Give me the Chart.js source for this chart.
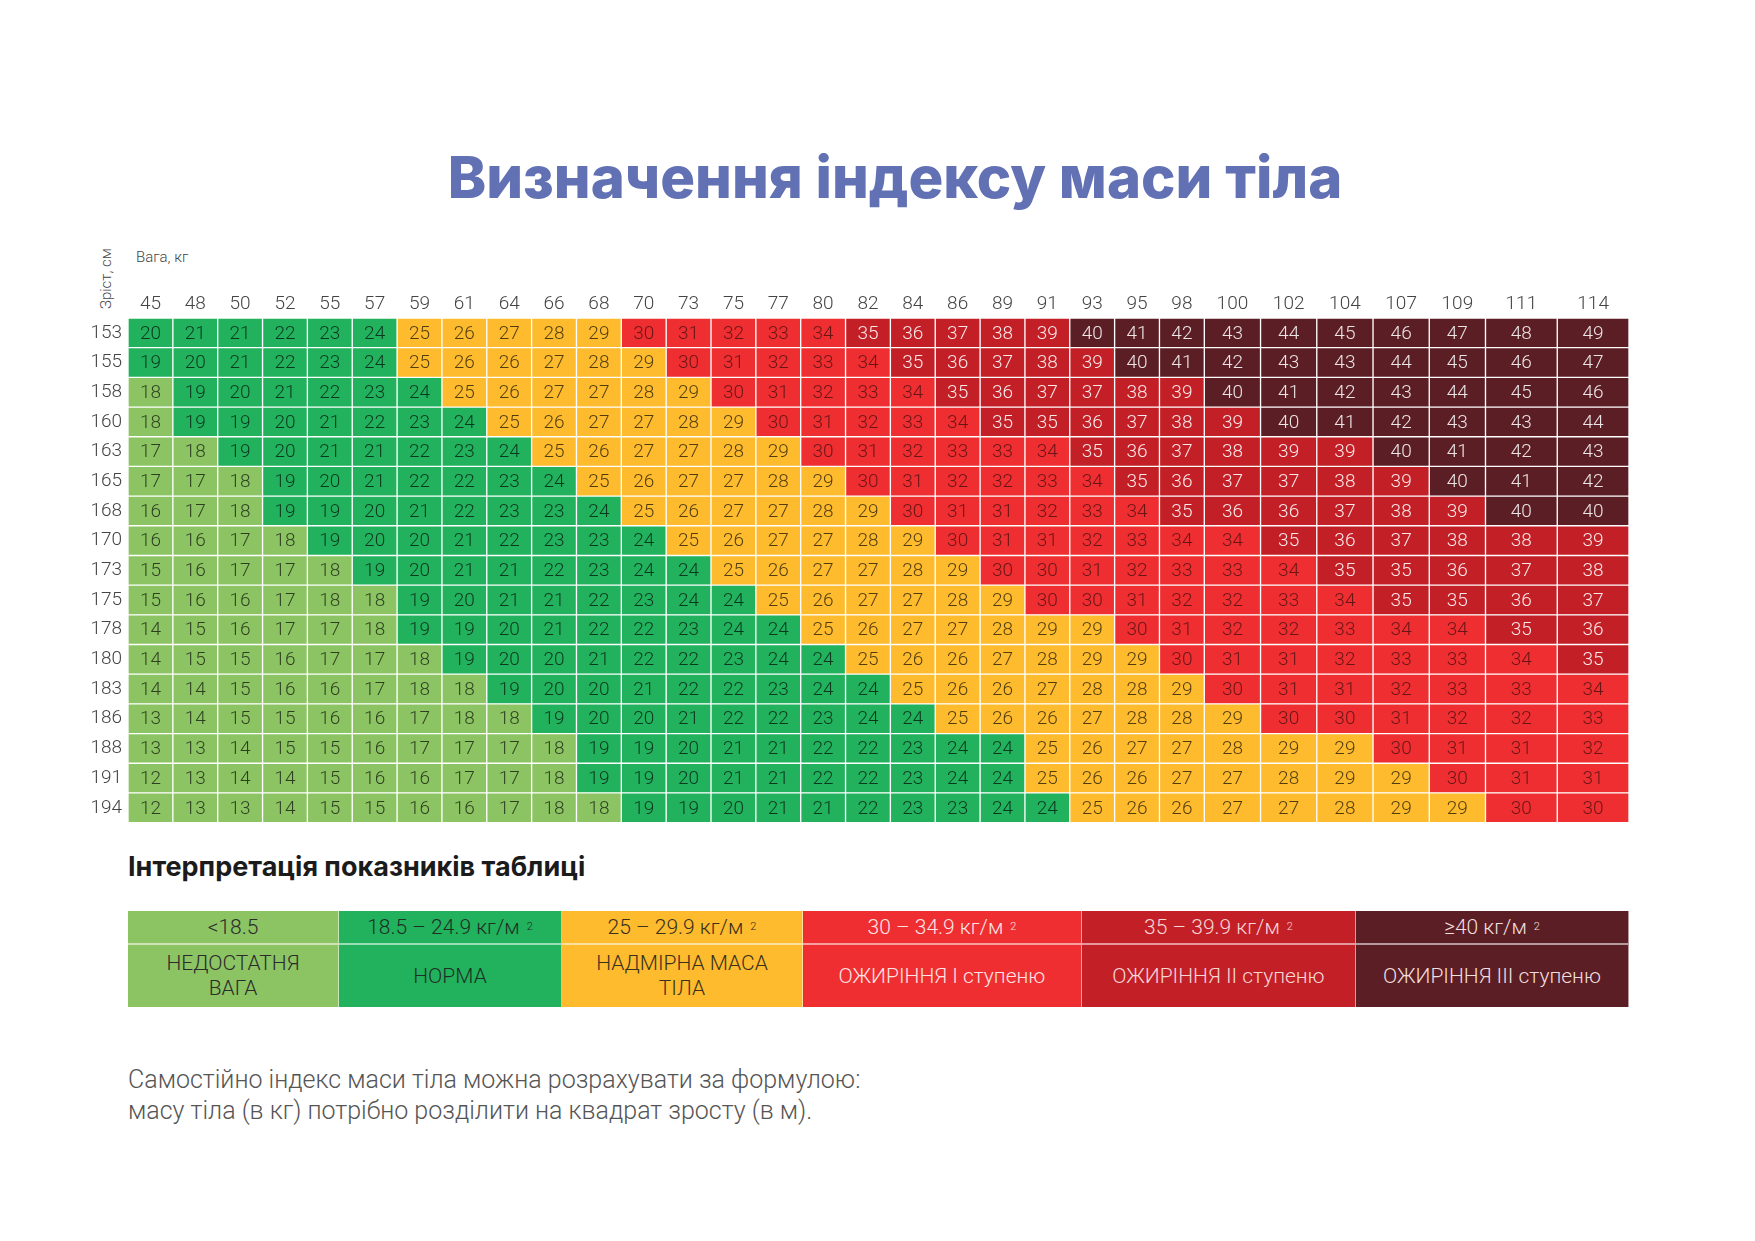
<!DOCTYPE html>
<html lang="uk">
<head>
<meta charset="utf-8">
<title>Визначення індексу маси тіла</title>
<script src="https://cdn.jsdelivr.net/npm/chart.js@4.4.1/dist/chart.umd.min.js"></script>
<style>
  html, body { margin: 0; padding: 0; background: #fff; }
  body { width: 1755px; height: 1241px; position: relative; overflow: hidden; font-family: Roboto, 'Noto Sans', sans-serif; color: #333; }
  #title { position: absolute; left: 395px; width: 1000px; top: 147px; text-align: center; font-family: Inter, 'Noto Sans', sans-serif; font-weight: 800; font-size: 58px; line-height: 60px; color: #6171b4; }
  #weightCap { position: absolute; left: 136px; top: 248px; font-size: 15px; font-weight: 300; color: #444; }
  #heightCap { position: absolute; left: 97px; top: 309px; font-size: 15px; font-weight: 300; color: #444; transform: rotate(-90deg); transform-origin: 0 0; white-space: nowrap; }
  #chartBox { position: absolute; left: 0; top: 240px; width: 1755px; height: 600px; }
  #legendHead { position: absolute; left: 128px; top: 850px; font-family: Inter, 'Noto Sans', sans-serif; font-weight: 700; font-size: 27px; color: #1b1b1b; }
  #legend { position: absolute; left: 128px; top: 911px; display: grid; grid-template-rows: 34px 62px; }
  #legend .c { display: flex; align-items: center; justify-content: center; text-align: center; font-weight: 300; font-size: 21px; line-height: 25px; box-sizing: border-box; border-right: 1px solid rgba(255,255,255,0.55); }
  #legend .top { border-bottom: 2px solid rgba(255,255,255,0.55); }
  #legend sup { font-size: 11px; margin-left: 7px; vertical-align: 10px; line-height: 0; }
  #footer { position: absolute; left: 128px; top: 1064px; font-size: 25px; font-weight: 300; line-height: 31px; color: #555; }
</style>
</head>
<body>
<div id="title">Визначення індексу маси тіла</div>
<div id="weightCap">Вага, кг</div>
<div id="heightCap">Зріст, см</div>
<div id="chartBox"><canvas id="bmiChart"></canvas></div>
<div id="legendHead">Інтерпретація показників таблиці</div>
<div id="legend"></div>
<div id="footer">Самостійно індекс маси тіла можна розрахувати за формулою:<br>масу тіла (в кг) потрібно розділити на квадрат зросту (в м).</div>

<script>
// ─── Data ─────────────────────────────────────────────────────────────────────
const weights = [45, 48, 50, 52, 55, 57, 59, 61, 64, 66, 68, 70, 73, 75, 77, 80,
                 82, 84, 86, 89, 91, 93, 95, 98, 100, 102, 104, 107, 109, 111, 114];
const heights = [153, 155, 158, 160, 163, 165, 168, 170, 173, 175, 178, 180, 183, 186, 188, 191, 194];

// one row per height, one value per weight column
const bmiRows = [
  [20, 21, 21, 22, 23, 24, 25, 26, 27, 28, 29, 30, 31, 32, 33, 34, 35, 36, 37, 38, 39, 40, 41, 42, 43, 44, 45, 46, 47, 48, 49],
  [19, 20, 21, 22, 23, 24, 25, 26, 26, 27, 28, 29, 30, 31, 32, 33, 34, 35, 36, 37, 38, 39, 40, 41, 42, 43, 43, 44, 45, 46, 47],
  [18, 19, 20, 21, 22, 23, 24, 25, 26, 27, 27, 28, 29, 30, 31, 32, 33, 34, 35, 36, 37, 37, 38, 39, 40, 41, 42, 43, 44, 45, 46],
  [18, 19, 19, 20, 21, 22, 23, 24, 25, 26, 27, 27, 28, 29, 30, 31, 32, 33, 34, 35, 35, 36, 37, 38, 39, 40, 41, 42, 43, 43, 44],
  [17, 18, 19, 20, 21, 21, 22, 23, 24, 25, 26, 27, 27, 28, 29, 30, 31, 32, 33, 33, 34, 35, 36, 37, 38, 39, 39, 40, 41, 42, 43],
  [17, 17, 18, 19, 20, 21, 22, 22, 23, 24, 25, 26, 27, 27, 28, 29, 30, 31, 32, 32, 33, 34, 35, 36, 37, 37, 38, 39, 40, 41, 42],
  [16, 17, 18, 19, 19, 20, 21, 22, 23, 23, 24, 25, 26, 27, 27, 28, 29, 30, 31, 31, 32, 33, 34, 35, 36, 36, 37, 38, 39, 40, 40],
  [16, 16, 17, 18, 19, 20, 20, 21, 22, 23, 23, 24, 25, 26, 27, 27, 28, 29, 30, 31, 31, 32, 33, 34, 34, 35, 36, 37, 38, 38, 39],
  [15, 16, 17, 17, 18, 19, 20, 21, 21, 22, 23, 24, 24, 25, 26, 27, 27, 28, 29, 30, 30, 31, 32, 33, 33, 34, 35, 35, 36, 37, 38],
  [15, 16, 16, 17, 18, 18, 19, 20, 21, 21, 22, 23, 24, 24, 25, 26, 27, 27, 28, 29, 30, 30, 31, 32, 32, 33, 34, 35, 35, 36, 37],
  [14, 15, 16, 17, 17, 18, 19, 19, 20, 21, 22, 22, 23, 24, 24, 25, 26, 27, 27, 28, 29, 29, 30, 31, 32, 32, 33, 34, 34, 35, 36],
  [14, 15, 15, 16, 17, 17, 18, 19, 20, 20, 21, 22, 22, 23, 24, 24, 25, 26, 26, 27, 28, 29, 29, 30, 31, 31, 32, 33, 33, 34, 35],
  [14, 14, 15, 16, 16, 17, 18, 18, 19, 20, 20, 21, 22, 22, 23, 24, 24, 25, 26, 26, 27, 28, 28, 29, 30, 31, 31, 32, 33, 33, 34],
  [13, 14, 15, 15, 16, 16, 17, 18, 18, 19, 20, 20, 21, 22, 22, 23, 24, 24, 25, 26, 26, 27, 28, 28, 29, 30, 30, 31, 32, 32, 33],
  [13, 13, 14, 15, 15, 16, 17, 17, 17, 18, 19, 19, 20, 21, 21, 22, 22, 23, 24, 24, 25, 26, 27, 27, 28, 29, 29, 30, 31, 31, 32],
  [12, 13, 14, 14, 15, 16, 16, 17, 17, 18, 19, 19, 20, 21, 21, 22, 22, 23, 24, 24, 25, 26, 26, 27, 27, 28, 29, 29, 30, 31, 31],
  [12, 13, 13, 14, 15, 15, 16, 16, 17, 18, 18, 19, 19, 20, 21, 21, 22, 23, 23, 24, 24, 25, 26, 26, 27, 27, 28, 29, 29, 30, 30],
];

// BMI classes: lower bound of each class, its range text and name
const classFrom = [0, 19, 25, 30, 35, 40];
const classRanges = ['<18.5', '18.5 – 24.9 кг/м', '25 – 29.9 кг/м', '30 – 34.9 кг/м', '35 – 39.9 кг/м', '≥40 кг/м'];
const classNames = ['НЕДОСТАТНЯ<br>ВАГА', 'НОРМА', 'НАДМІРНА МАСА<br>ТІЛА', 'ОЖИРІННЯ І ступеню', 'ОЖИРІННЯ ІІ ступеню', 'ОЖИРІННЯ ІІІ ступеню'];

// ─── Styles ───────────────────────────────────────────────────────────────────
const classColors = ['#8cc463', '#22b25e', '#fdbb2d', '#ee2e31', '#c31f27', '#5b1e25'];
const classText = ['rgba(0,0,0,0.68)', 'rgba(0,0,0,0.68)', 'rgba(0,0,0,0.68)', 'rgba(0,0,0,0.55)', 'rgba(255,255,255,0.9)', 'rgba(255,255,255,0.88)'];
const legendText = ['#2b2b2b', '#1f2f24', '#3a3020', '#fde3e3', '#f6d6d6', '#f1dede'];
const legendWidths = [211, 223, 241, 279, 274, 273];

const classOf = v => {
  let k = 0;
  classFrom.forEach((from, i) => { if (v >= from) k = i; });
  return k;
};

// column widths: three-digit weights get wider cells
const colUnits = weights.map(w => (w >= 111 ? 1.6 : w >= 100 ? 1.254 : 1));
const edges = [0];
colUnits.forEach(u => edges.push(edges[edges.length - 1] + u));
const centers = colUnits.map((u, j) => edges[j] + u / 2);

// ─── Cell numbers ─────────────────────────────────────────────────────────────
const cellLabels = {
  id: 'cellLabels',
  afterDatasetsDraw(chart) {
    const ctx = chart.ctx;
    ctx.save();
    ctx.font = '300 19px Roboto, "Noto Sans", sans-serif';
    ctx.textAlign = 'center';
    ctx.textBaseline = 'middle';
    chart.data.datasets.forEach((ds, j) => {
      chart.getDatasetMeta(j).data.forEach((bar, i) => {
        const v = bmiRows[i][j];
        const { x, y, base } = bar.getProps(['x', 'y', 'base'], true);
        ctx.fillStyle = classText[classOf(v)];
        ctx.fillText(String(v), (x + base) / 2, y + 1);
      });
    });
    ctx.restore();
  },
};

const tickFont = { family: 'Roboto, "Noto Sans", sans-serif', size: 19, weight: 300 };

new Chart(document.getElementById('bmiChart'), {
  type: 'bar',
  data: {
    labels: heights.map(String),
    datasets: weights.map((w, j) => ({
      label: String(w),
      data: heights.map(() => [edges[j], edges[j + 1]]),
      backgroundColor: c => classColors[classOf(bmiRows[c.dataIndex][j])],
      borderColor: 'rgba(255,255,255,0.6)',
      borderWidth: 1,
      borderSkipped: false,
      grouped: false,
      barPercentage: 1,
      categoryPercentage: 1,
    })),
  },
  options: {
    indexAxis: 'y',
    responsive: true,
    maintainAspectRatio: false,
    animation: false,
    layout: { padding: { left: 0, right: 126, top: 0, bottom: 0 } },
    plugins: { legend: { display: false }, tooltip: { enabled: false } },
    scales: {
      x: {
        type: 'linear',
        position: 'top',
        min: 0,
        max: edges[edges.length - 1],
        afterBuildTicks: scale => { scale.ticks = centers.map(value => ({ value })); },
        afterFit: scale => { scale.height = 78; },
        ticks: {
          autoSkip: false, maxRotation: 0, padding: 2,
          color: '#444', font: tickFont,
          callback: (value, index) => weights[index],
        },
        grid: { display: false, drawTicks: false },
        border: { display: false },
      },
      y: {
        afterFit: scale => { scale.width = 128; },
        ticks: { color: '#444', font: tickFont, padding: 6 },
        grid: { display: false, drawTicks: false },
        border: { display: false },
      },
    },
  },
  plugins: [cellLabels],
});

// ─── Interpretation table ─────────────────────────────────────────────────────
const legend = document.getElementById('legend');
legend.style.gridTemplateColumns = legendWidths.map(w => w + 'px').join(' ');
const cells = [];
classRanges.forEach((r, i) => {
  const sup = i > 0 ? '<sup>2</sup>' : '';
  cells.push(`<div class="c top" style="background:${classColors[i]};color:${legendText[i]}">${r}${sup}</div>`);
});
classNames.forEach((n, i) => {
  cells.push(`<div class="c" style="background:${classColors[i]};color:${legendText[i]}">${n}</div>`);
});
legend.innerHTML = cells.join('');
</script>
</body>
</html>
